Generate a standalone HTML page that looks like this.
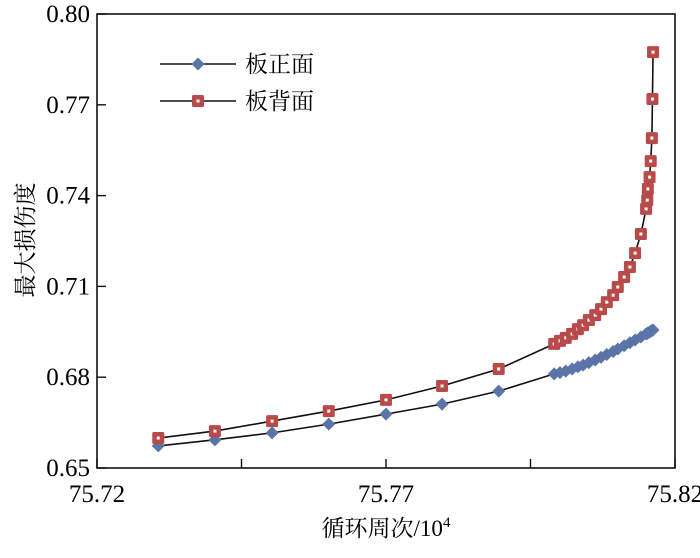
<!DOCTYPE html>
<html><head><meta charset="utf-8"><style>
body{margin:0;background:#fff}
svg text{font-family:"Liberation Serif","Noto Serif CJK SC",serif;fill:#000}
</style></head><body>
<svg id="chart" width="700" height="553" viewBox="0 0 700 553" xmlns="http://www.w3.org/2000/svg">
<g id="plot"></g>
</svg>
<script>
const xTicks=[75.72,75.77,75.82];
const xTickLabels=["75.72","75.77","75.82"];
const xMinorTicks=[75.745,75.795];
const yTicks=[0.65,0.68,0.71,0.74,0.77,0.80];
const yTickLabels=["0.65","0.68","0.71","0.74","0.77","0.80"];
const cycles=[75.7306,75.7404,75.7503,75.7601,75.7700,75.7797,75.7895,75.7991,75.8001,75.8011,75.8022,75.8032,75.8041,75.8051,75.8062,75.8072,75.8082,75.8093,75.8101,75.8112,75.8122,75.8131,75.8141,75.8150,75.8152,75.8153,75.8156,75.8158,75.8160,75.8161,75.8162];
const frontDamage=[0.6573,0.6593,0.6616,0.6645,0.6678,0.6711,0.6754,0.6811,0.6815,0.6820,0.6827,0.6834,0.6840,0.6848,0.6857,0.6866,0.6875,0.6885,0.6893,0.6904,0.6914,0.6923,0.6933,0.6943,0.6945,0.6946,0.6949,0.6952,0.6954,0.6955,0.6956];
const backDamage=[0.6599,0.6622,0.6655,0.6688,0.6725,0.6771,0.6827,0.6910,0.6920,0.6930,0.6943,0.6959,0.6972,0.6989,0.7005,0.7025,0.7048,0.7071,0.7098,0.7131,0.7164,0.7210,0.7273,0.7356,0.7385,0.7422,0.7461,0.7514,0.7590,0.7719,0.7874];

const L=97,R=675,T=14,B=468;
const xs=v=>L+(v-75.72)/(75.82-75.72)*(R-L);
const ys=v=>B-(v-0.65)/(0.80-0.65)*(B-T);
const NS="http://www.w3.org/2000/svg";
const g=document.getElementById('plot');
function mk(tag,attrs,parent){const e=document.createElementNS(NS,tag);for(const k in attrs)e.setAttribute(k,attrs[k]);(parent||g).appendChild(e);return e;}

let frame=mk('rect',{x:L,y:T,width:R-L,height:B-T,fill:'none',stroke:'#111','stroke-width':1.6});



xTicks.forEach((v,i)=>{
  const t=mk('line',{x1:xs(v),x2:xs(v),y1:B,y2:B-9,stroke:'#111','stroke-width':1.4});
  
  
  const tx=mk('text',{x:xs(v),y:B+34,'text-anchor':'middle','font-size':25});
  tx.textContent=xTickLabels[i];
  
  
});
xMinorTicks.forEach(v=>{
  const t=mk('line',{x1:xs(v),x2:xs(v),y1:B,y2:B-9,stroke:'#111','stroke-width':1.4});
  
  
});
yTicks.forEach((v,i)=>{
  const t=mk('line',{x1:L,x2:L+9,y1:ys(v),y2:ys(v),stroke:'#111','stroke-width':1.4});
  
  
  const tx=mk('text',{x:L-7,y:ys(v)+8,'text-anchor':'end','font-size':25});
  tx.textContent=yTickLabels[i];
  
  
});

function diamond(cx,cy,parent){const s=6.5;const p=mk('polygon',{points:`${cx},${cy-s} ${cx+s},${cy} ${cx},${cy+s} ${cx-s},${cy}`,fill:'#5b74a8'},parent);return p;}
function square(cx,cy,parent){const s=6;const p=mk('rect',{x:cx-s,y:cy-s,width:2*s,height:2*s,rx:1.5,fill:'#b94a4a'},parent);
  const c=mk('rect',{x:cx-1.5,y:cy-1.5,width:3,height:3,fill:'#fff'},parent);return p;}

const fl=mk('polyline',{points:cycles.map((c,i)=>xs(c)+','+ys(frontDamage[i])).join(' '),fill:'none',stroke:'#111','stroke-width':1.6});


const bl=mk('polyline',{points:cycles.map((c,i)=>xs(c)+','+ys(backDamage[i])).join(' '),fill:'none',stroke:'#111','stroke-width':1.6});


cycles.forEach((c,i)=>diamond(xs(c),ys(frontDamage[i])));
cycles.forEach((c,i)=>square(xs(c),ys(backDamage[i])));

const lg=mk('g',{});


let l1=mk('line',{x1:160,x2:236,y1:64,y2:64,stroke:'#111','stroke-width':1.6},lg);


diamond(198,64,lg);
let t1=mk('text',{x:245,y:72,'font-size':23},lg);t1.textContent='板正面';


let l2=mk('line',{x1:160,x2:236,y1:101,y2:101,stroke:'#111','stroke-width':1.6},lg);


square(198,101,lg);
let t2=mk('text',{x:245,y:109,'font-size':23},lg);t2.textContent='板背面';



const xt=mk('text',{x:386,y:536,'text-anchor':'middle','font-size':23});
xt.innerHTML='循环周次/10<tspan dy="-9" font-size="15">4</tspan>';


const yt=mk('text',{x:0,y:0,'text-anchor':'middle','font-size':23,transform:'translate(33,240) rotate(-90)'});
yt.textContent='最大损伤度';


</script>
</body></html>
